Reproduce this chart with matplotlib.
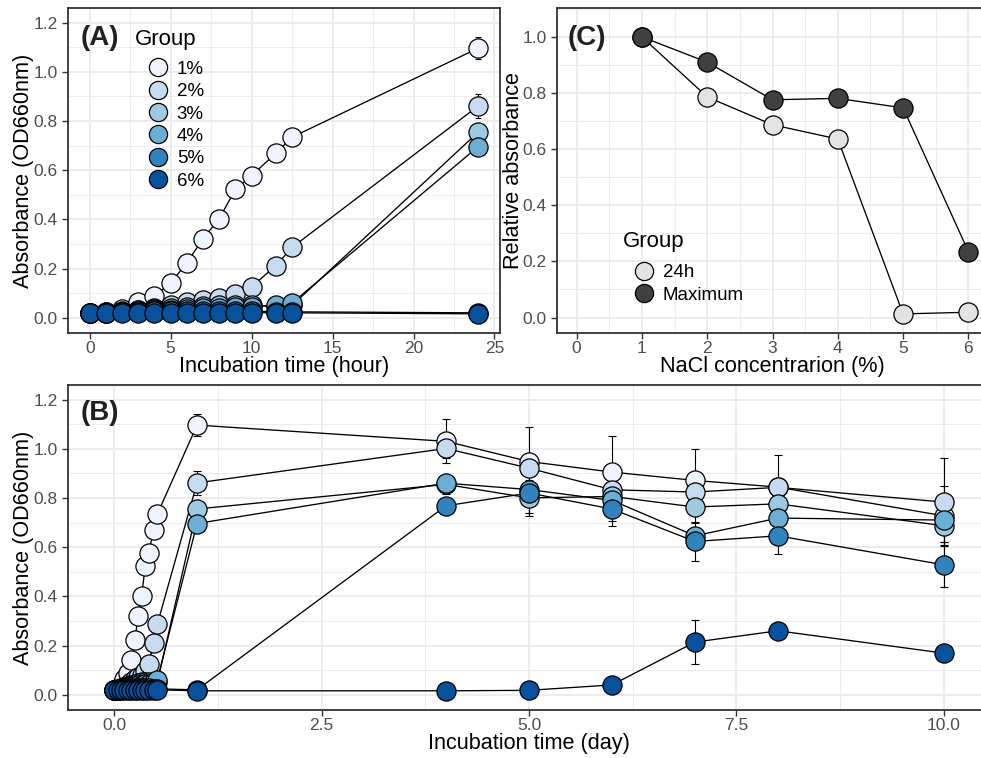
import matplotlib

matplotlib.use("Agg")
import matplotlib.pyplot as plt
from matplotlib.lines import Line2D
from matplotlib.ticker import FormatStrFormatter, MultipleLocator

plt.rcParams["font.family"] = ["Liberation Sans", "DejaVu Sans"]

GROUPS = ["1%", "2%", "3%", "4%", "5%", "6%"]
GROUP_COLORS = ["#EFF3FF", "#C6DBEF", "#9ECAE1", "#6BAED6", "#3182BD", "#08519C"]

# panel A: hourly absorbance
hours = [0, 1, 2, 3, 4, 5, 6, 7, 8, 9, 10, 11.5, 12.5, 24]
a_1 = [0.020, 0.022, 0.035, 0.062, 0.090, 0.140, 0.224, 0.321, 0.403, 0.522, 0.578, 0.669, 0.734, 1.096]
a_2 = [0.020, 0.022, 0.026, 0.032, 0.040, 0.050, 0.065, 0.072, 0.081, 0.096, 0.126, 0.212, 0.286, 0.861]
a_3 = [0.020, 0.021, 0.025, 0.030, 0.035, 0.040, 0.044, 0.048, 0.050, 0.052, 0.052, 0.045, 0.050, 0.755]
a_4 = [0.019, 0.020, 0.022, 0.026, 0.030, 0.033, 0.035, 0.038, 0.040, 0.042, 0.045, 0.050, 0.060, 0.696]
a_5 = [0.018, 0.019, 0.022, 0.024, 0.026, 0.027, 0.028, 0.029, 0.029, 0.028, 0.028, 0.024, 0.024, 0.020]
a_6 = [0.018, 0.018, 0.019, 0.019, 0.020, 0.020, 0.021, 0.021, 0.021, 0.021, 0.021, 0.020, 0.020, 0.016]
ea_1 = [0.002, 0.002, 0.003, 0.005, 0.006, 0.008, 0.010, 0.012, 0.012, 0.015, 0.015, 0.020, 0.020, 0.045]
ea_2 = [0.002, 0.002, 0.002, 0.003, 0.003, 0.004, 0.005, 0.006, 0.006, 0.008, 0.010, 0.012, 0.015, 0.050]
ea_3 = [0.002, 0.002, 0.002, 0.002, 0.003, 0.003, 0.003, 0.004, 0.004, 0.004, 0.004, 0.004, 0.005, 0.020]
ea_4 = [0.002, 0.002, 0.002, 0.002, 0.002, 0.003, 0.003, 0.003, 0.003, 0.003, 0.004, 0.004, 0.005, 0.020]
ea_5 = [0.002, 0.002, 0.002, 0.002, 0.002, 0.002, 0.002, 0.002, 0.002, 0.002, 0.002, 0.002, 0.002, 0.003]
ea_6 = [0.002, 0.002, 0.002, 0.002, 0.002, 0.002, 0.002, 0.002, 0.002, 0.002, 0.002, 0.002, 0.002, 0.003]

# panel B: later days (the first day is the hourly data above)
days_late = [4, 5, 6, 7, 8, 10]
b_1 = [1.030, 0.948, 0.905, 0.871, 0.844, 0.727]
b_2 = [1.001, 0.921, 0.833, 0.824, 0.843, 0.783]
b_3 = [0.855, 0.800, 0.806, 0.763, 0.776, 0.687]
b_4 = [0.860, 0.834, 0.790, 0.646, 0.718, 0.710]
b_5 = [0.768, 0.820, 0.755, 0.623, 0.646, 0.528]
b_6 = [0.016, 0.018, 0.040, 0.214, 0.260, 0.169]
eb_1 = [0.090, 0.140, 0.145, 0.128, 0.130, 0.120]
eb_2 = [0.040, 0.050, 0.030, 0.040, 0.030, 0.180]
eb_3 = [0.040, 0.060, 0.030, 0.065, 0.030, 0.065]
eb_4 = [0.030, 0.030, 0.085, 0.030, 0.030, 0.030]
eb_5 = [0.030, 0.095, 0.070, 0.078, 0.073, 0.092]
eb_6 = [0.005, 0.005, 0.010, 0.090, 0.020, 0.010]

# panel C: relative absorbance
nacl = [1, 2, 3, 4, 5, 6]
rel_24h = [1.000, 0.786, 0.687, 0.636, 0.013, 0.019]
rel_max = [1.000, 0.910, 0.776, 0.781, 0.747, 0.235]

A_VALS = [a_1, a_2, a_3, a_4, a_5, a_6]
A_ERRS = [ea_1, ea_2, ea_3, ea_4, ea_5, ea_6]
B_VALS = [b_1, b_2, b_3, b_4, b_5, b_6]
B_ERRS = [eb_1, eb_2, eb_3, eb_4, eb_5, eb_6]

W, H = 981, 758
MS = 13.8
MEW = 0.9
LW = 0.95
TICK_COLOR = "#333333"
LABEL_COLOR = "#4D4D4D"
GRID = "#EBEBEB"
PANEL_LABEL_COLOR = "#231F20"
TICK_SIZE = 12.5
TITLE_SIZE = 15.6
LEGEND_SIZE = 13.5
LEGEND_TITLE_SIZE = 16


def px_axes(fig, left, top, right, bottom):
    return fig.add_axes([left / W, (H - bottom) / H, (right - left) / W, (bottom - top) / H])


def style_axes(ax, xmajor, xminor, ymajor, yminor):
    ax.xaxis.set_major_locator(MultipleLocator(xmajor))
    ax.xaxis.set_minor_locator(MultipleLocator(xminor))
    ax.yaxis.set_major_locator(MultipleLocator(ymajor))
    ax.yaxis.set_minor_locator(MultipleLocator(yminor))
    ax.grid(which="major", color=GRID, lw=1.3, zorder=0)
    ax.grid(which="minor", color=GRID, lw=0.65, zorder=0)
    ax.set_axisbelow(True)
    for spine in ax.spines.values():
        spine.set_color(TICK_COLOR)
        spine.set_linewidth(1.3)
    ax.tick_params(which="major", length=4, width=1.0, color=TICK_COLOR,
                   labelcolor=LABEL_COLOR, labelsize=TICK_SIZE)
    ax.tick_params(axis="x", which="major", pad=2)
    ax.tick_params(axis="y", which="major", pad=3.5)
    ax.tick_params(which="minor", length=0)
    ax.yaxis.set_major_formatter(FormatStrFormatter("%.1f"))


def draw_groups(ax, xs_list, ys_list, es_list, capsize):
    for xs, ys, es in zip(xs_list, ys_list, es_list):
        ax.errorbar(xs, ys, yerr=es, fmt="none", ecolor="black", elinewidth=0.8,
                    capsize=capsize, capthick=0.8, zorder=2)
    for xs, ys in zip(xs_list, ys_list):
        ax.plot(xs, ys, color="black", lw=LW, zorder=3)
    for i, (xs, ys) in enumerate(zip(xs_list, ys_list)):
        ax.plot(xs, ys, ls="none", marker="o", ms=MS, mfc=GROUP_COLORS[i],
                mec="black", mew=MEW, zorder=4 + i)


def add_legend(ax, handles, labels, anchor):
    leg = ax.legend(handles, labels, loc="upper left", bbox_to_anchor=anchor,
                    frameon=False, fontsize=LEGEND_SIZE, labelspacing=0.28,
                    handletextpad=0.5, handlelength=1.0, borderpad=0,
                    borderaxespad=0)
    leg.set_zorder(20)
    return leg


def main() -> None:
    fig = plt.figure(figsize=(W / 100, H / 100), dpi=100)

    # ---- panel A
    ax_a = px_axes(fig, 68, 8, 500, 333)
    draw_groups(ax_a, [hours] * 6, A_VALS, A_ERRS, capsize=2.2)
    ax_a.set_xlim(-1.34, 25.34)
    ax_a.set_ylim(-0.062, 1.259)
    style_axes(ax_a, 5, 2.5, 0.2, 0.1)
    ax_a.set_xlabel("Incubation time (hour)", fontsize=TITLE_SIZE, labelpad=0)
    ax_a.set_ylabel("Absorbance (OD660nm)", fontsize=TITLE_SIZE)
    ax_a.yaxis.set_label_coords(-0.079, 0.5)
    ax_a.text(0.029, 0.886, "(A)", transform=ax_a.transAxes, fontsize=20,
              fontweight="bold", color=PANEL_LABEL_COLOR, va="baseline", ha="left")
    ax_a.text(0.155, 0.886, "Group", transform=ax_a.transAxes, fontsize=LEGEND_TITLE_SIZE,
              color="black", va="baseline", ha="left", zorder=20)
    handles = [Line2D([], [], ls="none", marker="o", ms=MS * 0.95, mfc=c, mec="black", mew=MEW)
               for c in GROUP_COLORS]
    add_legend(ax_a, handles, GROUPS, (0.1866, 0.838))

    # ---- panel C
    ax_c = px_axes(fig, 557, 8, 988, 333)
    ax_c.plot(nacl, rel_24h, color="black", lw=LW, zorder=3)
    ax_c.plot(nacl, rel_max, color="black", lw=LW, zorder=3)
    ax_c.plot(nacl, rel_24h, ls="none", marker="o", ms=MS, mfc="#E3E3E3",
              mec="black", mew=MEW, zorder=4)
    ax_c.plot(nacl, rel_max, ls="none", marker="o", ms=MS, mfc="#404040",
              mec="black", mew=MEW, zorder=5)
    ax_c.set_xlim(-0.3, 6.3)
    ax_c.set_ylim(-0.055, 1.103)
    style_axes(ax_c, 1, 0.5, 0.2, 0.1)
    ax_c.xaxis.set_major_formatter(FormatStrFormatter("%d"))
    ax_c.set_xlabel("NaCl concentrarion (%)", fontsize=TITLE_SIZE, labelpad=0)
    ax_c.set_ylabel("Relative absorbance", fontsize=TITLE_SIZE)
    ax_c.yaxis.set_label_coords(-0.077, 0.5)
    ax_c.text(0.024, 0.886, "(C)", transform=ax_c.transAxes, fontsize=20,
              fontweight="bold", color=PANEL_LABEL_COLOR, va="baseline", ha="left")
    ax_c.text(0.153, 0.2646, "Group", transform=ax_c.transAxes, fontsize=LEGEND_TITLE_SIZE,
              color="black", va="baseline", ha="left", zorder=20)
    c_handles = [
        Line2D([], [], ls="none", marker="o", ms=MS * 0.95, mfc="#E3E3E3", mec="black", mew=MEW),
        Line2D([], [], ls="none", marker="o", ms=MS * 0.95, mfc="#404040", mec="black", mew=MEW),
    ]
    add_legend(ax_c, c_handles, ["24h", "Maximum"], (0.180, 0.212))

    # ---- panel B
    ax_b = px_axes(fig, 68, 385, 990, 710)
    days_early = [h / 24 for h in hours]
    xs_b = [days_early + days_late] * 6
    ys_b = [a + b for a, b in zip(A_VALS, B_VALS)]
    es_b = [a + b for a, b in zip(A_ERRS, B_ERRS)]
    draw_groups(ax_b, xs_b, ys_b, es_b, capsize=3.2)
    ax_b.set_xlim(-0.555, 10.555)
    ax_b.set_ylim(-0.062, 1.259)
    style_axes(ax_b, 2.5, 1.25, 0.2, 0.1)
    ax_b.xaxis.set_major_formatter(FormatStrFormatter("%.1f"))
    ax_b.set_xlabel("Incubation time (day)", fontsize=TITLE_SIZE, labelpad=0)
    ax_b.set_ylabel("Absorbance (OD660nm)", fontsize=TITLE_SIZE)
    ax_b.yaxis.set_label_coords(-0.037, 0.5)
    ax_b.text(0.0138, 0.892, "(B)", transform=ax_b.transAxes, fontsize=20,
              fontweight="bold", color=PANEL_LABEL_COLOR, va="baseline", ha="left")

    fig.savefig("out.png", dpi=100)
    plt.close(fig)


if __name__ == "__main__":
    main()
